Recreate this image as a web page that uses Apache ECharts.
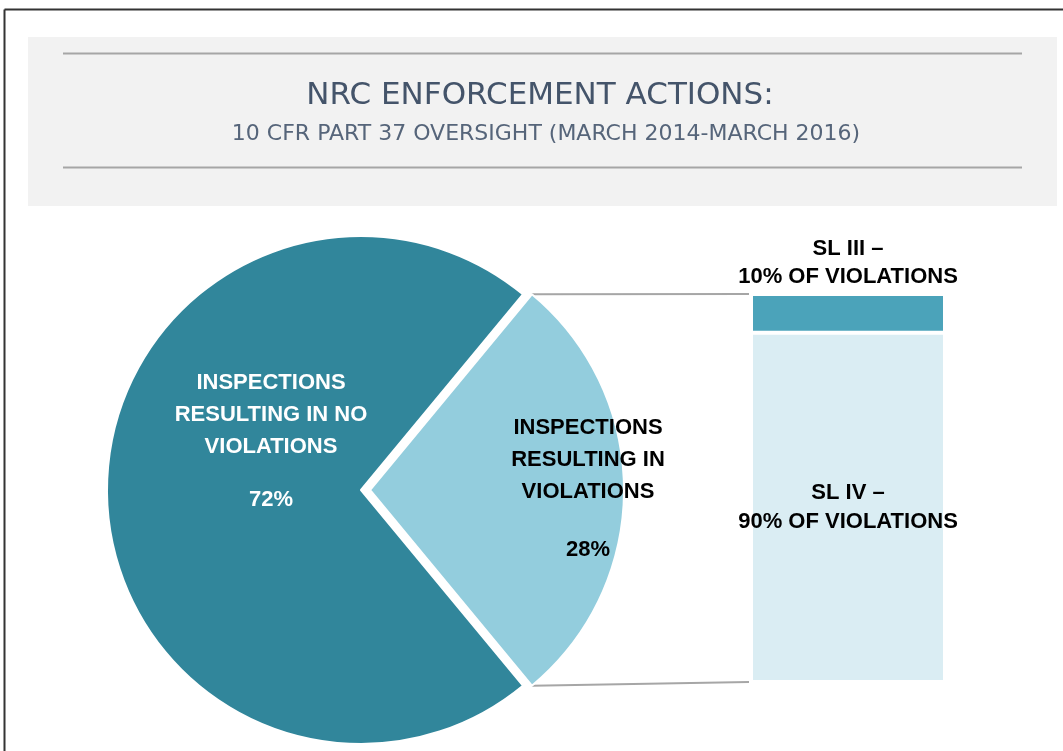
<!DOCTYPE html>
<html>
<head>
<meta charset="UTF-8">
<title>NRC Enforcement Actions</title>
<style>
  html, body { margin: 0; padding: 0; background: #fff; }
  #main { width: 1063px; height: 751px; }
</style>
</head>
<body>
<div id="main"></div>
<script src="https://cdn.jsdelivr.net/npm/echarts@6/dist/echarts.min.js"></script>
<script>
// data
var titleText = 'NRC ENFORCEMENT ACTIONS:';
var subtitleText = '10 CFR PART 37 OVERSIGHT (MARCH 2014-MARCH 2016)';
var pieNames = ['INSPECTIONS\nRESULTING IN\nVIOLATIONS', 'INSPECTIONS\nRESULTING IN NO\nVIOLATIONS'];
var pieValues = [28, 72];
var barCategory = ['Violations'];
var barNames = ['SL IV', 'SL III'];   // stacked bottom -> top
var barValues = [90, 10];

var colors = {
  pieLight: '#93cddd',
  pieDark: '#31869b',
  barDark: '#4ba3ba',
  barLight: '#daedf3',
  connector: '#a6a6a6'
};

var chart = echarts.init(document.getElementById('main'));
var labelFont = 'Liberation Sans, Arial, sans-serif';
var sliceOffset = 9;

// light slice centred on the right side of the pie
var total = pieValues[0] + pieValues[1];
var startAngle = pieValues[0] / total * 180;

// label nudges from the default inside position (light, dark)
var labelShift = [[88, 12], [20, -19]];

function richSet(color, pctLine) {
  return {
    n: { color: color, fontFamily: labelFont, fontSize: 22, fontWeight: 'bold', lineHeight: 32 },
    p: { color: color, fontFamily: labelFont, fontSize: 22, fontWeight: 'bold', lineHeight: pctLine }
  };
}

chart.setOption({
  animation: false,
  backgroundColor: '#fff',
  grid: { left: 751, top: 294, width: 194, height: 388 },
  xAxis: { type: 'category', data: barCategory, show: false },
  yAxis: { type: 'value', min: 0, max: 100, show: false },
  series: [{
    type: 'pie',
    silent: true,
    center: [361, 490],
    radius: 254,
    startAngle: startAngle,
    clockwise: true,
    selectedMode: 'single',
    selectedOffset: sliceOffset,
    itemStyle: { borderColor: '#fff', borderWidth: 2 },
    select: { itemStyle: { borderColor: '#fff', borderWidth: 2 } },
    label: {
      show: true,
      position: 'inside',
      formatter: '{n|{b}}\n{p|{d}%}'
    },
    labelLayout: function (params) {
      var s = labelShift[params.dataIndex];
      return { dx: s[0], dy: s[1] };
    },
    data: [{
      name: pieNames[0], value: pieValues[0], selected: true,
      itemStyle: { color: colors.pieLight },
      label: { color: '#000', rich: richSet('#000', 84) }
    }, {
      name: pieNames[1], value: pieValues[1],
      itemStyle: { color: colors.pieDark },
      label: { color: '#fff', rich: richSet('#fff', 74) }
    }]
  }, {
    name: barNames[0],
    type: 'bar',
    stack: 'v',
    silent: true,
    barWidth: '100%',
    itemStyle: { color: colors.barLight, borderColor: '#fff', borderWidth: 2 },
    label: {
      show: true, position: 'inside',
      formatter: '{a} –\n{c}% OF VIOLATIONS',
      color: '#000', fontFamily: labelFont, fontSize: 22, fontWeight: 'bold', lineHeight: 29
    },
    data: [barValues[0]]
  }, {
    name: barNames[1],
    type: 'bar',
    stack: 'v',
    silent: true,
    barWidth: '100%',
    itemStyle: { color: colors.barDark, borderColor: '#fff', borderWidth: 2 },
    label: {
      show: true, position: 'top', distance: 3,
      formatter: '{a} –\n{c}% OF VIOLATIONS',
      color: '#000', fontFamily: labelFont, fontSize: 22, fontWeight: 'bold', lineHeight: 28
    },
    data: [barValues[1]]
  }]
});

// connector lines: light slice corners -> bar corners
var model = chart.getModel();
var pl = model.getSeriesByIndex(0).getData().getItemLayout(0);
var mid = (pl.startAngle + pl.endAngle) / 2;
var ox = pl.cx + sliceOffset * Math.cos(mid), oy = pl.cy + sliceOffset * Math.sin(mid);
var c1 = [ox + pl.r * Math.cos(pl.startAngle), oy + pl.r * Math.sin(pl.startAngle)];
var c2 = [ox + pl.r * Math.cos(pl.endAngle), oy + pl.r * Math.sin(pl.endAngle)];
var cornerTop = c1[1] < c2[1] ? c1 : c2;
var cornerBot = c1[1] < c2[1] ? c2 : c1;
var topBar = model.getSeriesByIndex(2).getData().getItemLayout(0);
var botBar = model.getSeriesByIndex(1).getData().getItemLayout(0);
var barTop = Math.min(topBar.y, topBar.y + topBar.height);
var barBot = Math.max(botBar.y, botBar.y + botBar.height);

chart.setOption({
  graphic: [
    // frame
    { type: 'line', shape: { x1: 4.5, y1: 9.5, x2: 1063, y2: 9.5 }, style: { stroke: '#333', lineWidth: 2 }, silent: true },
    { type: 'line', shape: { x1: 4.5, y1: 9.5, x2: 4.5, y2: 751 }, style: { stroke: '#333', lineWidth: 2 }, silent: true },
    // title panel
    { type: 'rect', shape: { x: 28, y: 37, width: 1029, height: 169 }, style: { fill: '#f2f2f2' }, silent: true, z: -1 },
    { type: 'line', shape: { x1: 63, y1: 53.5, x2: 1022, y2: 53.5 }, style: { stroke: '#a6a6a6', lineWidth: 2 }, silent: true },
    { type: 'line', shape: { x1: 63, y1: 167.5, x2: 1022, y2: 167.5 }, style: { stroke: '#a6a6a6', lineWidth: 2 }, silent: true },
    {
      type: 'text', x: 540, y: 96, silent: true,
      style: { text: titleText, fill: '#44546a', font: 'normal 31px "DejaVu Sans", sans-serif', textAlign: 'center', textVerticalAlign: 'middle' }
    },
    {
      type: 'text', x: 546, y: 134, silent: true,
      style: { text: subtitleText, fill: '#56657a', font: 'normal 22px "DejaVu Sans", sans-serif', textAlign: 'center', textVerticalAlign: 'middle' }
    },
    // connectors
    { type: 'line', shape: { x1: cornerTop[0], y1: cornerTop[1], x2: topBar.x - 2, y2: barTop }, style: { stroke: colors.connector, lineWidth: 2 }, silent: true },
    { type: 'line', shape: { x1: cornerBot[0], y1: cornerBot[1], x2: botBar.x - 2, y2: barBot }, style: { stroke: colors.connector, lineWidth: 2 }, silent: true }
  ]
});

window.addEventListener('resize', function () {
  chart.resize();
});
</script>
</body>
</html>
